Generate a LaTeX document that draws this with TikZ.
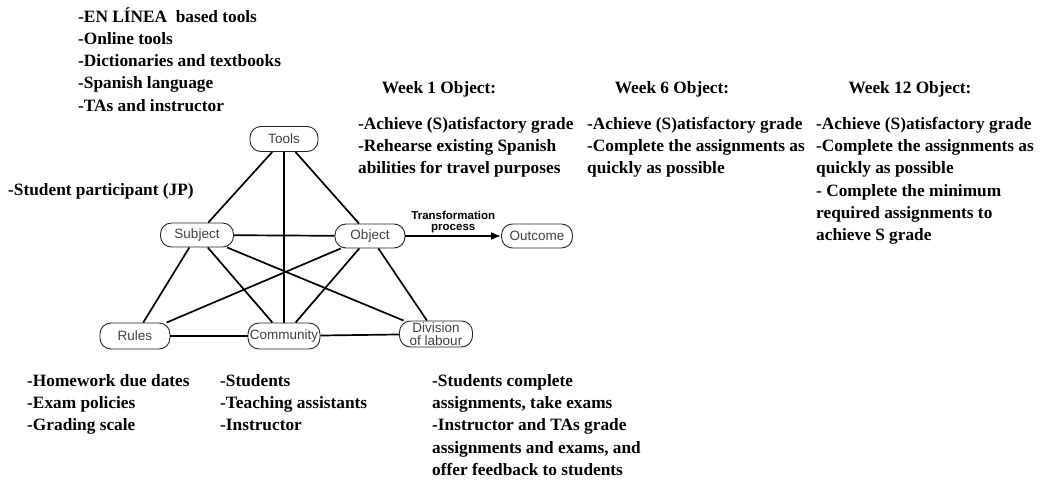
\documentclass[tikz,border=0pt]{standalone}
\usepackage{fontspec}
\setmainfont{Liberation Serif}
\setsansfont{Liberation Sans}
\usetikzlibrary{arrows.meta}

\tikzset{
  actbox/.style={draw=black!85, line width=0.9pt, fill=white, rounded corners=11pt, inner sep=0pt,
    minimum width=71pt, minimum height=25pt, text=black!75, font=\sffamily\fontsize{13.5}{13}\selectfont},
  notes/.style={anchor=north west, inner sep=0pt, align=left, font=\bfseries\fontsize{17.3}{22.3}\selectfont},
  heading/.style={inner sep=0pt, font=\bfseries\fontsize{17.3}{22}\selectfont},
  link/.style={line width=1.7pt},
}

\begin{document}
\begin{tikzpicture}[x=1pt, y=-1pt, >={Latex[length=10pt,width=8pt]}]
  \useasboundingbox (0,0) rectangle (1042,481);

  % Nodes
  \node[actbox, minimum width=68pt] (tools) at (284,139) {Tools};
  \node[actbox, minimum width=73pt, minimum height=24pt] (subj) at (197,235) {Subject};
  \node[actbox, minimum width=70pt, minimum height=24pt] (obj) at (370,236) {Object};
  \node[actbox, minimum height=24pt] (outc) at (537,236) {Outcome};
  \node[actbox, minimum width=70pt, minimum height=26pt] (rules) at (135,336) {Rules};
  \node[actbox, minimum width=72pt, minimum height=26pt] (comm) at (284,336) {Community};
  \node[actbox, minimum width=73pt, minimum height=26pt, align=center] (divn) at (436,334) {Division\\of labour};

  % Arrows
  \draw[link] (tools) -- (subj);
  \draw[link] (tools) -- (obj);
  \draw[link] (tools) -- (comm);
  \draw[link] (subj) -- (obj);
  \draw[link] (subj) -- (rules);
  \draw[link] (subj) -- (comm);
  \draw[link] (subj) -- (divn);
  \draw[link] (obj) -- (rules);
  \draw[link] (obj) -- (comm);
  \draw[link] (obj) -- (divn);
  \draw[link] (rules) -- (comm);
  \draw[link] (comm) -- (divn);
  \draw[link, ->] (obj) -- node[above=1pt, align=center, inner sep=1pt,
    font=\sffamily\bfseries\fontsize{11.5}{11.5}\selectfont] {Transformation\\process} (outc);

  % Texts
  \node[notes] (toolsnote) at (78,7) {-EN LÍNEA\ \ based tools\\-Online tools\\-Dictionaries and textbooks\\-Spanish language\\-TAs and instructor};
  \node[notes, anchor=west] (subjnote) at (8,191) {-Student participant (JP)};
  \node[heading] (wk1) at (439,89) {Week 1 Object:};
  \node[heading] (wk6) at (672,89) {Week 6 Object:};
  \node[heading] (wk12) at (910,89) {Week 12 Object:};
  \node[notes] (wk1note) at (358,117) {-Achieve (S)atisfactory grade\\-Rehearse existing Spanish\\abilities for travel purposes};
  \node[notes] (wk6note) at (587,117) {-Achieve (S)atisfactory grade\\-Complete the assignments as\\quickly as possible};
  \node[notes] (wk12note) at (816,117) {-Achieve (S)atisfactory grade\\-Complete the assignments as\\quickly as possible\\- Complete the minimum\\required assignments to\\achieve S grade};
  \node[notes] (rulesnote) at (27,374) {-Homework due dates\\-Exam policies\\-Grading scale};
  \node[notes] (commnote) at (220,374) {-Students\\-Teaching assistants\\-Instructor};
  \node[notes] (divnnote) at (432,374) {-Students complete\\assignments, take exams\\-Instructor and TAs grade\\assignments and exams, and\\offer feedback to students};
\end{tikzpicture}
\end{document}
